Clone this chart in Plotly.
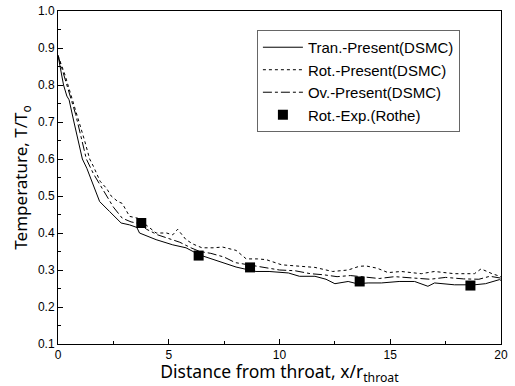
import plotly.graph_objects as go

# Data
tran_x = [0, 0.25, 0.4, 0.5, 0.72, 0.9, 1.1, 1.3, 1.6, 1.88, 2.33, 2.85, 3.23, 3.56, 3.68, 4.43, 5.18, 5.78,
          6.38, 6.83, 7.43, 8.04, 8.63, 8.94, 9.53, 10.4, 10.9, 11.6, 12.1, 12.5, 13.1, 13.5, 14.0, 14.6,
          15.4, 16.1, 16.7, 17.0, 17.9, 18.8, 19.3, 19.93, 20]
tran_y = [0.88, 0.80, 0.77, 0.76, 0.70, 0.65, 0.60, 0.575, 0.53, 0.485, 0.458, 0.427, 0.422, 0.415, 0.40,
          0.382, 0.368, 0.36, 0.341, 0.332, 0.319, 0.308, 0.30, 0.296, 0.296, 0.292, 0.283, 0.283, 0.275,
          0.263, 0.269, 0.263, 0.265, 0.265, 0.269, 0.269, 0.256, 0.265, 0.26, 0.26, 0.263, 0.274, 0.272]

rot_x = [0, 0.3, 0.5, 0.7, 0.98, 1.2, 1.43, 1.6, 1.9, 2.2, 2.4, 2.7, 2.9, 3.23, 3.6, 3.9, 4.43, 4.9, 5.18,
         5.4, 5.78, 6.1, 6.5, 7.0, 7.43, 8.04, 8.5, 9.0, 9.4, 10.1, 10.9, 11.6, 12.4, 13.1, 13.6, 13.9,
         14.4, 14.9, 15.5, 16.4, 17.0, 17.9, 18.8, 19.1, 19.6, 20]
rot_y = [0.88, 0.83, 0.79, 0.75, 0.70, 0.65, 0.60, 0.58, 0.54, 0.52, 0.50, 0.485, 0.48, 0.445, 0.44,
         0.425, 0.40, 0.40, 0.395, 0.41, 0.382, 0.37, 0.36, 0.36, 0.362, 0.353, 0.33, 0.33, 0.328, 0.314,
         0.31, 0.307, 0.296, 0.30, 0.31, 0.311, 0.305, 0.293, 0.296, 0.29, 0.296, 0.29, 0.29, 0.303,
         0.29, 0.282]

ov_x = [0, 0.3, 0.5, 0.8, 1.0, 1.28, 1.6, 1.9, 2.18, 2.5, 2.9, 3.3, 3.7, 4.0, 4.5, 5.0, 5.5, 6.0, 6.4,
        6.9, 7.5, 8.0, 8.6, 9.0, 9.5, 10.0, 10.7, 11.4, 12.0, 12.6, 13.2, 14.0, 14.5, 15.2, 16.0, 16.8,
        17.5, 18.3, 19.0, 19.5, 20]
ov_y = [0.88, 0.82, 0.78, 0.72, 0.67, 0.60, 0.56, 0.53, 0.50, 0.47, 0.44, 0.43, 0.425, 0.41, 0.395,
        0.385, 0.375, 0.36, 0.35, 0.345, 0.335, 0.32, 0.315, 0.31, 0.305, 0.30, 0.298, 0.29, 0.287,
        0.282, 0.285, 0.28, 0.277, 0.282, 0.278, 0.275, 0.28, 0.276, 0.275, 0.283, 0.278]

exp_x = [3.76, 6.35, 8.67, 13.62, 18.62]
exp_y = [0.427, 0.339, 0.307, 0.269, 0.258]

names = ["Tran.-Present(DSMC)", "Rot.-Present(DSMC)", "Ov.-Present(DSMC)", "Rot.-Exp.(Rothe)"]

fig = go.Figure()
fig.add_trace(go.Scatter(x=tran_x, y=tran_y, mode="lines", name=names[0],
                         line=dict(color="black", width=1, dash="solid")))
fig.add_trace(go.Scatter(x=rot_x, y=rot_y, mode="lines", name=names[1],
                         line=dict(color="black", width=1, dash="dot")))
fig.add_trace(go.Scatter(x=ov_x, y=ov_y, mode="lines", name=names[2],
                         line=dict(color="black", width=1, dash="dashdot")))
fig.add_trace(go.Scatter(x=exp_x, y=exp_y, mode="markers", name=names[3],
                         marker=dict(color="black", symbol="square", size=10)))

axis_common = dict(showgrid=False, zeroline=False, showline=True, linecolor="black", linewidth=1,
                   mirror=True, ticks="inside", ticklen=5, tickcolor="black",
                   tickfont=dict(family="Liberation Sans, Arial", size=12, color="black"))

fig.update_layout(
    width=515, height=386,
    margin=dict(l=58, r=14, t=11, b=42, autoexpand=False),
    plot_bgcolor="white", paper_bgcolor="white",
    showlegend=True,
    legend=dict(x=0.449, y=0.943, xanchor="left", yanchor="top",
                bgcolor="white", bordercolor="#666666", borderwidth=1,
                font=dict(family="Liberation Sans, Arial", size=15, color="black"),
                tracegroupgap=0, itemwidth=40),
    xaxis=dict(range=[0, 20], tickvals=[0, 5, 10, 15, 20],
               minor=dict(ticks="inside", ticklen=3, tickcolor="black", dtick=2.5, tick0=0),
               title=dict(text="Distance from throat, x/r<sub>throat</sub>", standoff=7,
                          font=dict(family="Noto Sans", size=17.5, color="black")),
               **axis_common),
    yaxis=dict(range=[0.1, 1.0], dtick=0.1, tickformat=".1f",
               minor=dict(ticks="inside", ticklen=3, tickcolor="black", dtick=0.05, tick0=0.1),
               title=dict(text="Temperature, T/T<sub>o</sub>", standoff=5,
                          font=dict(family="Noto Sans", size=17, color="black")),
               **axis_common),
)

fig.write_html("out.html", config={"displayModeBar": False},
               post_script="document.body.style.margin='0';document.body.style.padding='0';")
